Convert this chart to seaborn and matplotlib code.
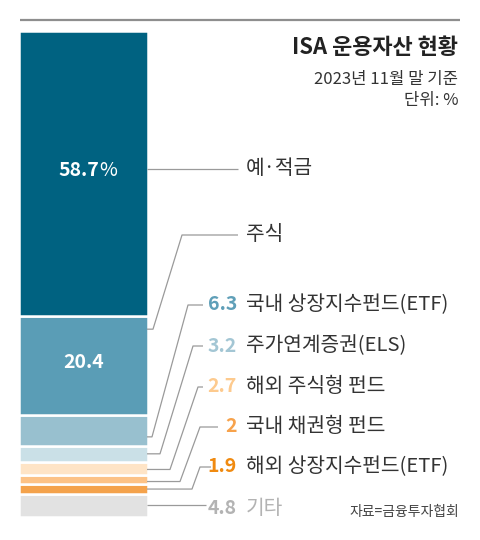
# -*- coding: utf-8 -*-
"""ISA 운용자산 현황 - 누적 막대 차트."""

import matplotlib

matplotlib.use("Agg")

import matplotlib.pyplot as plt
import pandas as pd
import seaborn as sns

# 데이터
categories = [
    "예·적금",
    "주식",
    "국내 상장지수펀드(ETF)",
    "주가연계증권(ELS)",
    "해외 주식형 펀드",
    "국내 채권형 펀드",
    "해외 상장지수펀드(ETF)",
    "기타",
]
values = [58.7, 20.4, 6.3, 3.2, 2.7, 2.0, 1.9, 4.8]
value_labels = ["58.7%", "20.4", "6.3", "3.2", "2.7", "2", "1.9", "4.8"]

title = "ISA 운용자산 현황"
subtitle = "2023년 11월 말 기준"
unit_text = "단위: %"
source_text = "자료=금융투자협회"

# 색상
bar_colors = ["#006281", "#5a9db6", "#98c0cf", "#cae0e7",
              "#fee4c6", "#fcc286", "#f4a24b", "#e2e2e2"]
number_colors = [None, None, "#5f9fb8", "#a3c6d4",
                 "#fdca8e", "#f7a24b", "#f08a10", "#b3b3b3"]
name_colors = ["#333333"] * 7 + ["#b3b3b3"]

# 레이아웃 (픽셀, 위쪽 기준)
W, H = 480, 540
BAR_LEFT, BAR_RIGHT = 20, 147
BAR_TOP, BAR_BOTTOM = 31, 517
PX_PER_PCT = (BAR_BOTTOM - BAR_TOP) / 100

label_py = [169, 235, 305, 346, 387, 427, 467, 508]
anchor_frac = [None, 0.13, 0.7, 0.5, 0.6, 0.7, 0.5, 0.5]  # 세그먼트 내 위치(위=0)
elbow_px = [None, 153, 152, 160, 170, 180, 192, None]
knee_px = [None, 182, 188, 193, 198, 200, 200, None]
line_end_px = [238, 238, 203, 203, 203, 218, 211, 206]
NUM_RIGHT = 237
NAME_LEFT = 246


def y_of(py):
    """위쪽 기준 픽셀 y를 퍼센트 축 값으로 변환."""
    return (BAR_BOTTOM - py) / PX_PER_PCT


sns.set_theme(style="white")
plt.rcParams["font.family"] = ["Noto Sans CJK KR", "DejaVu Sans"]

fig = plt.figure(figsize=(W / 100, H / 100), dpi=100)
ax = fig.add_axes([0, 0, 1, 1])

df = pd.DataFrame({
    "category": categories,
    "value": values,
    "x": [(BAR_LEFT + BAR_RIGHT) / 2] * len(values),
})

sns.histplot(
    data=df,
    x="x",
    weights="value",
    hue="category",
    hue_order=categories,
    palette=bar_colors,
    multiple="stack",
    bins=[BAR_LEFT - 1, BAR_RIGHT + 1],
    edgecolor="white",
    linewidth=1.8,
    alpha=1,
    legend=False,
    ax=ax,
)

ax.set_xlim(0, W)
ax.set_ylim(y_of(H), y_of(0))
ax.axis("off")

# 세그먼트 경계 (위에서부터 누적)
tops = []
acc = 100.0
for v in values:
    tops.append(acc)
    acc -= v

# 상단 구분선
ax.plot([20, 460], [y_of(20), y_of(20)], color="#8e8e8e", lw=1.6,
        solid_capstyle="butt")

# 막대 안 숫자 (퍼센트 기호는 가는 글씨)
bar_mid = (BAR_LEFT + BAR_RIGHT) / 2
for i in (0, 1):
    label = value_labels[i]
    ty = tops[i] - values[i] / 2 + 0.6
    if label.endswith("%"):
        t = ax.text(bar_mid - 5, ty, label[:-1], color="white", fontsize=14,
                    fontweight="bold", ha="center", va="center")
        ax.annotate("%", xy=(1, 0.5), xycoords=t, xytext=(0.5, 0),
                    textcoords="offset points", color="white", fontsize=14,
                    ha="left", va="center")
    else:
        ax.text(bar_mid, ty, label, color="white", fontsize=14,
                fontweight="bold", ha="center", va="center")

# 지시선과 레이블
line_kw = dict(color="#9a9a9a", lw=0.9, solid_capstyle="butt")
for i, name in enumerate(categories):
    ly = y_of(label_py[i])
    if anchor_frac[i] is None:
        ax.plot([BAR_RIGHT, line_end_px[i]], [ly, ly], **line_kw)
    elif elbow_px[i] is None:
        ay = tops[i] - values[i] * anchor_frac[i]
        ax.plot([BAR_RIGHT, line_end_px[i]], [ay, ay], **line_kw)
    else:
        ay = tops[i] - values[i] * anchor_frac[i]
        ax.plot([BAR_RIGHT, elbow_px[i], knee_px[i], line_end_px[i]],
                [ay, ay, ly, ly], **line_kw)

    if number_colors[i] is not None:
        ax.text(NUM_RIGHT, ly, value_labels[i], color=number_colors[i],
                fontsize=14, fontweight="bold", ha="right", va="center")
    ax.text(NAME_LEFT, ly, name, color=name_colors[i], fontsize=14.6,
            ha="left", va="center")

# 제목과 부제
ax.text(458, y_of(47), title, fontsize=15.8, fontweight="bold",
        color="#222222", ha="right", va="center")
ax.text(458, y_of(80), subtitle, fontsize=12, color="#333333",
        ha="right", va="center")
ax.text(458, y_of(101), unit_text, fontsize=12, color="#333333",
        ha="right", va="center")
ax.text(459, y_of(512), source_text, fontsize=10, color="#444444",
        ha="right", va="center")

fig.savefig("out.png", dpi=100)
plt.close(fig)
